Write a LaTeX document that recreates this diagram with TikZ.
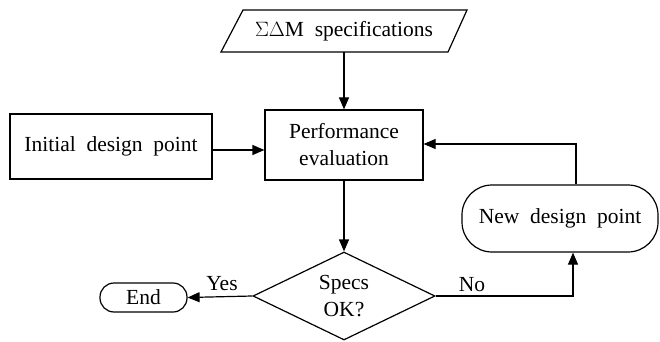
\documentclass[tikz,border=0pt]{standalone}
\usepackage{fontspec}
\setmainfont{Liberation Serif}
\usetikzlibrary{arrows.meta,shapes.geometric}
\begin{document}
\begin{tikzpicture}[x=1pt,y=-1pt,
  every node/.style={font=\fontsize{21.5}{27}\selectfont},
  line/.style={line width=1.2pt},
  arr/.style={line width=1.2pt,-{Triangle[length=12pt,width=10pt]}},
  box/.style={draw,line width=1.2pt,rectangle,inner sep=0pt,align=center},
  term/.style={draw,line width=1.2pt,rectangle,inner sep=0pt,align=center},
  lab/.style={inner sep=0pt}]
\useasboundingbox (0,0) rectangle (660,342);
% parallelogram
\draw[line] (243,10) -- (467,10) -- (448,52) -- (221,52) -- cycle;
\node[inner sep=0pt,minimum width=227pt,minimum height=42pt] (spec) at (344,31) {$\Sigma\Delta$M\ \ specifications};
\node[box,minimum width=158pt,minimum height=70pt] (perf) at (344,145) {Performance\\evaluation};
\node[box,minimum width=202pt,minimum height=65pt] (init) at (111,146.5) {Initial\ \ design\ \ point};
\node[term,rounded corners=30pt,minimum width=196pt,minimum height=67pt] (new) at (560,218.5) {New\ \ design\ \ point};
\node[draw,line width=1.2pt,diamond,aspect=2.07,inner sep=0pt,minimum width=182pt,minimum height=88pt,align=center] (dia) at (344,296) {Specs\\OK?};
\node[term,rounded corners=14pt,minimum width=87pt,minimum height=29pt] (end) at (143.5,297.5) {End};
\draw[arr] (spec.south) -- (perf.north);
\draw[arr] ([yshift=-3.5pt]init.east) -- ([yshift=-3.5pt]init.east -| perf.west);
\draw[arr] (perf.south) -- (dia.north);
\draw[arr] ([xshift=16pt]new.north) |- ([yshift=1pt]perf.east);
\draw[arr] (dia.east) -| ([xshift=13pt]new.south);
\draw[arr] (dia.west) -- (end.east);
\node[lab] (yes) at (222,284) {Yes};
\node[lab] (no) at (472,285) {No};
\end{tikzpicture}
\end{document}
